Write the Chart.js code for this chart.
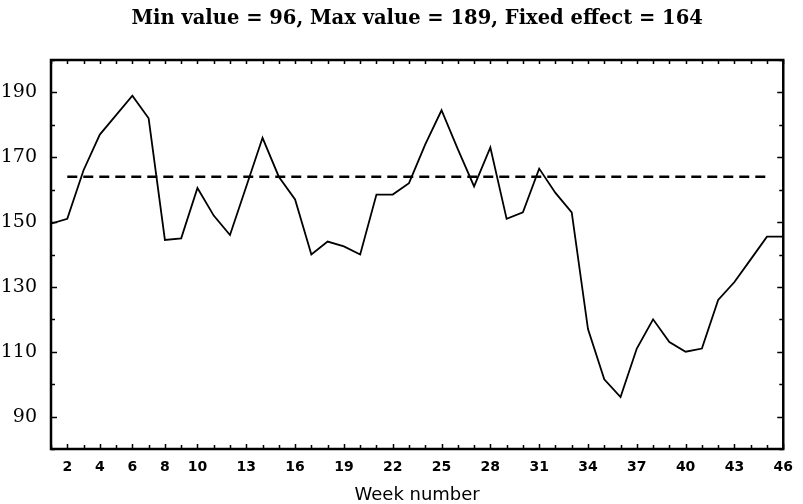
<!DOCTYPE html>
<html>
<head>
<meta charset="utf-8">
<script src="https://cdn.jsdelivr.net/npm/chart.js@4/dist/chart.umd.min.js"></script>
<style>
  html, body { margin: 0; padding: 0; background: #fff; }
  #wrap { width: 803px; height: 504px; }
</style>
</head>
<body>
<div id="wrap"><canvas id="chart"></canvas></div>
<script>
// 数据
const weeks = [1, 2, 3, 4, 5, 6, 7, 8, 9, 10, 11, 12, 13, 14, 15, 16, 17, 18, 19, 20, 21, 22, 23,
               24, 25, 26, 27, 28, 29, 30, 31, 32, 33, 34, 35, 36, 37, 38, 39, 40, 41, 42, 43, 44, 45, 46];
const values = [149.5, 151, 166, 177, 183, 189, 182, 144.5, 145, 160.5, 152, 146, 161, 176, 164, 157,
                140, 144, 142.5, 140, 158.5, 158.5, 162, 174, 184.5, 172.5, 161, 173, 151, 153, 166.5,
                159, 153, 117, 101.5, 96, 111, 120, 113, 110, 111, 126, 131.5, 138.5, 145.5, 145.5];
const fixedEffect = 164;
const fixedRange = [2, 45];
const xLabels = [2, 4, 6, 8, 10, 13, 16, 19, 22, 25, 28, 31, 34, 37, 40, 43, 46];
const yTicks = [80, 90, 100, 110, 120, 130, 140, 150, 160, 170, 180, 190, 200];
const yLabels = [90, 110, 130, 150, 170, 190];

const titleText = 'Min value = ' + Math.min(...values) + ', Max value = ' + Math.max(...values) +
                  ', Fixed effect = ' + fixedEffect;

// 边框和向内刻度
const framePlugin = {
    id: 'frame',
    afterDraw(chart) {
        const { ctx, chartArea: a, scales: { x, y } } = chart;
        ctx.save();
        ctx.strokeStyle = '#000';
        ctx.lineWidth = 1.5;
        ctx.beginPath();
        weeks.forEach(w => {
            const px = Math.round(x.getPixelForValue(w)) + 0.5;
            const len = xLabels.includes(w) ? 5 : 4;
            ctx.moveTo(px, a.bottom); ctx.lineTo(px, a.bottom - len);
            ctx.moveTo(px, a.top); ctx.lineTo(px, a.top + 4);
        });
        yTicks.forEach(v => {
            const py = Math.round(y.getPixelForValue(v)) + 0.5;
            const len = yLabels.includes(v) ? 6 : 4;
            ctx.moveTo(a.left, py); ctx.lineTo(a.left + len, py);
            ctx.moveTo(a.right, py); ctx.lineTo(a.right - len, py);
        });
        ctx.stroke();
        ctx.lineWidth = 2.5;
        ctx.strokeRect(a.left, a.top, a.right - a.left, a.bottom - a.top);
        ctx.restore();
    }
};

new Chart(document.getElementById('chart'), {
    type: 'line',
    data: {
        datasets: [{
            data: weeks.map((w, i) => ({ x: w, y: values[i] })),
            borderColor: '#000',
            borderWidth: 1.8,
            pointRadius: 0,
            tension: 0
        }, {
            data: fixedRange.map(w => ({ x: w, y: fixedEffect })),
            borderColor: '#000',
            borderWidth: 2.4,
            borderDash: [10, 6],
            pointRadius: 0
        }]
    },
    options: {
        responsive: true,
        maintainAspectRatio: false,
        animation: false,
        layout: { padding: { left: 0, right: 10, top: 0, bottom: 0 } },
        plugins: {
            legend: { display: false },
            tooltip: { enabled: false },
            title: { display: false }
        },
        scales: {
            x: {
                type: 'linear',
                min: 1,
                max: 46,
                afterBuildTicks: s => { s.ticks = weeks.map(w => ({ value: w })); },
                afterFit: s => { s.height = 55; },
                grid: { display: false, drawTicks: false },
                border: { display: false },
                ticks: {
                    autoSkip: false,
                    maxRotation: 0,
                    padding: 10,
                    color: '#000',
                    font: { family: '"DejaVu Sans", sans-serif', size: 14, weight: 'bold' },
                    callback: v => xLabels.includes(v) ? String(v) : ''
                },
                title: {
                    display: true,
                    text: 'Week number',
                    color: '#000',
                    font: { family: '"DejaVu Sans", sans-serif', size: 18 },
                    padding: { top: 0, bottom: -2 }
                }
            },
            // 顶部轴只用来放标题，让标题居中于绘图区
            x2: {
                type: 'linear',
                position: 'top',
                min: 1,
                max: 46,
                afterFit: s => { s.height = 60; },
                grid: { display: false, drawTicks: false },
                border: { display: false },
                ticks: { display: false },
                title: {
                    display: true,
                    text: titleText,
                    color: '#000',
                    font: { family: '"DejaVu Serif", serif', size: 19.5, weight: 'bold' },
                    padding: { top: 7, bottom: 0 }
                }
            },
            y: {
                min: 80,
                max: 200,
                afterBuildTicks: s => { s.ticks = yTicks.map(v => ({ value: v })); },
                afterFit: s => { s.width = 51; },
                grid: { display: false, drawTicks: false },
                border: { display: false },
                ticks: {
                    autoSkip: false,
                    padding: 14,
                    color: '#000',
                    font: { family: '"DejaVu Serif", serif', size: 19 },
                    callback: v => yLabels.includes(v) ? String(v) : ''
                }
            }
        }
    },
    plugins: [framePlugin]
});
</script>
</body>
</html>
